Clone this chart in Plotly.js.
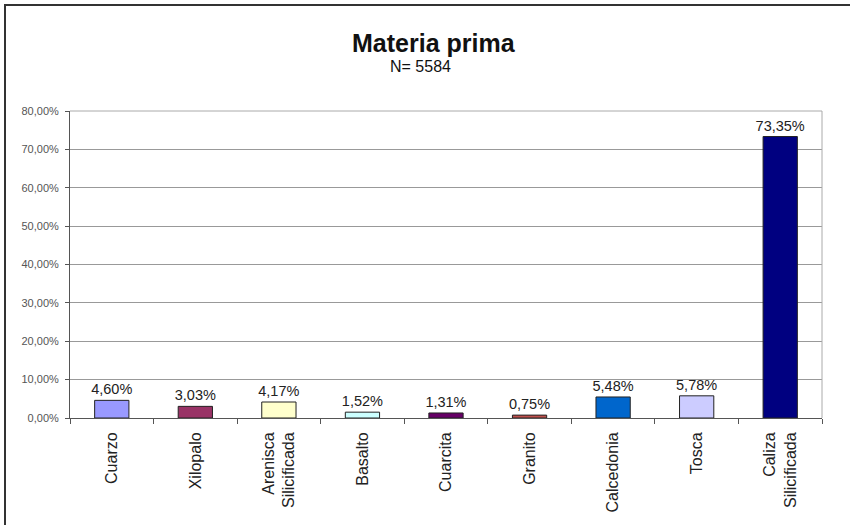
<!DOCTYPE html>
<html>
<head>
<meta charset="utf-8">
<script src="https://cdn.plot.ly/plotly-3.0.1.min.js"></script>
<style>
html,body{margin:0;padding:0;background:#fff;}
#wrap{position:relative;width:850px;height:525px;}
#chart{width:850px;height:525px;}
#frame{position:absolute;left:4px;top:4px;width:860px;height:540px;border-left:2px solid #333;border-top:2px solid #333;pointer-events:none;}
</style>
</head>
<body>
<div id="wrap"><div id="chart"></div><div id="frame"></div></div>
<script>
var categories = ["Cuarzo","Xilopalo","Arenisca<br>Silicificada","Basalto","Cuarcita","Granito","Calcedonia","Tosca","Caliza<br>Silicificada"];
var values = [0.0460,0.0303,0.0417,0.0152,0.0131,0.0075,0.0548,0.0578,0.7335];
var colors = ["#9999FF","#993366","#FFFFCC","#CCFFFF","#660066","#C0504D","#0066CC","#CCCCFF","#000080"];
var yTicks = [0,0.1,0.2,0.3,0.4,0.5,0.6,0.7,0.8];

var trace = {
  type:"bar",
  x:categories,
  y:values,
  marker:{color:colors,line:{color:"#222",width:1}},
  texttemplate:"%{y:.2%}",
  textposition:"outside",
  constraintext:"none",
  cliponaxis:false,
  textfont:{family:"Liberation Sans, Arial, sans-serif",size:14.5,color:"#222"},
  hoverinfo:"none"
};

var layout = {
  width:850,height:525,
  separators:",.",
  margin:{l:70,r:28,t:111,b:107},
  paper_bgcolor:"#fff",plot_bgcolor:"#fff",
  showlegend:false,
  bargap:0.59,
  font:{family:"Liberation Sans, Arial, sans-serif",color:"#222"},
  xaxis:{
    type:"category",
    tickangle:-90,
    tickfont:{size:16,color:"#222"},
    ticks:"outside",ticklen:5,tickcolor:"#555",
    tickson:"boundaries",
    ticklabelstandoff:7,
    showline:true,linecolor:"#555",linewidth:1,
    showgrid:false,
    automargin:false
  },
  yaxis:{
    range:[0,0.8],
    tickvals:yTicks,
    tickformat:".2%",
    tickfont:{size:11,color:"#555"},
    ticks:"outside",ticklen:4,tickcolor:"#555",
    ticklabelstandoff:4,
    showline:true,linecolor:"#555",linewidth:1,
    showgrid:true,gridcolor:"#999",gridwidth:1,
    zeroline:false,
    automargin:false
  },
  shapes:[
    {type:"line",xref:"paper",yref:"paper",x0:1,x1:1,y0:0,y1:1,line:{color:"#aaa",width:1}},
    {type:"line",xref:"paper",yref:"paper",x0:0,x1:1,y0:1,y1:1,line:{color:"#aaa",width:1}}
  ],
  annotations:[
    {text:"<b>Materia prima</b>",xref:"paper",yref:"paper",x:0.484,y:1,yshift:68,xanchor:"center",yanchor:"middle",showarrow:false,font:{size:25,color:"#111"}},
    {text:"N= 5584",xref:"paper",yref:"paper",x:0.466,y:1,yshift:45,xanchor:"center",yanchor:"middle",showarrow:false,font:{size:16,color:"#111"}}
  ]
};

Plotly.newPlot("chart",[trace],layout,{displayModeBar:false,staticPlot:true});
</script>
</body>
</html>
